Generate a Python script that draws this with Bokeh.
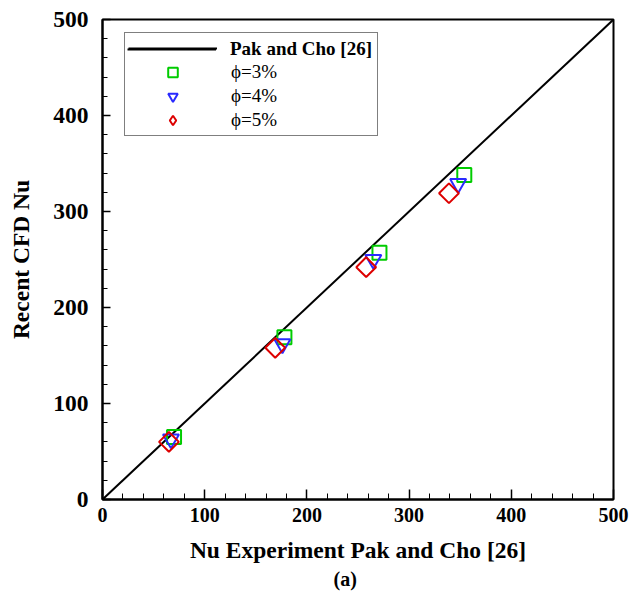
import numpy as np
from bokeh.plotting import figure
from bokeh.models import Range1d, SingleIntervalTicker, Legend, LegendItem, Title
from bokeh.embed import file_html
from bokeh.resources import INLINE

# ---- data ----
diag_x = [0, 500]
diag_y = [0, 500]

nu_exp_3 = [70, 178, 271, 354]
nu_cfd_3 = [65, 169, 257, 338]

nu_exp_4 = [67, 176, 265, 348]
nu_cfd_4 = [63, 162, 250, 329]

nu_exp_5 = [65, 169, 258, 339]
nu_cfd_5 = [60, 158, 242, 319]

x_label = "Nu Experiment Pak and Cho [26]"
y_label = "Recent CFD Nu"
line_label = "Pak and Cho [26]"
series_labels = ["\u03d5=3%", "\u03d5=4%", "\u03d5=5%"]

GREEN = "#00cc00"
BLUE = "#2a2aff"
RED = "#dd0000"
FONT = "Liberation Serif"

p = figure(width=629, height=594, output_backend="svg", toolbar_location=None,
           x_range=Range1d(0, 500), y_range=Range1d(0, 500),
           min_border_left=102, min_border_right=16, min_border_top=19,
           min_border_bottom=95)

p.background_fill_color = "white"
p.border_fill_color = "white"
p.outline_line_color = "black"
p.outline_line_width = 2
p.xgrid.visible = False
p.ygrid.visible = False

for ax, tin, minin in ((p.xaxis[0], 10, 6), (p.yaxis[0], 8, 5)):
    ax.ticker = SingleIntervalTicker(interval=100, num_minor_ticks=5)
    ax.axis_line_width = 2
    ax.axis_line_color = "black"
    ax.major_tick_in = tin
    ax.major_tick_out = 0
    ax.minor_tick_in = minin
    ax.minor_tick_out = 0
    ax.major_tick_line_width = 1.5
    ax.minor_tick_line_width = 1
    ax.major_label_text_font = FONT
    ax.major_label_text_font_style = "bold"
    ax.major_label_text_color = "black"
    ax.axis_label_text_font = FONT
    ax.axis_label_text_font_style = "bold"
    ax.axis_label_text_color = "black"

p.xaxis.axis_label = x_label
p.yaxis.axis_label = y_label
p.xaxis.major_label_text_font_size = "20px"
p.yaxis.major_label_text_font_size = "23.5px"
p.xaxis.axis_label_text_font_size = "23.5px"
p.yaxis.axis_label_text_font_size = "23.5px"
p.xaxis.major_label_standoff = 8
p.yaxis.major_label_standoff = 14
p.xaxis.axis_label_standoff = 12
p.yaxis.axis_label_standoff = 16

# diagonal line
ln = p.line(diag_x, diag_y, line_color="black", line_width=2)

# data markers
r3 = p.scatter(nu_exp_3, nu_cfd_3, marker="square", size=14, fill_color=None,
               line_color=GREEN, line_width=2)
r4 = p.scatter(nu_exp_4, nu_cfd_4, marker="inverted_triangle", size=16, fill_color=None,
               line_color=BLUE, line_width=2)
r5 = p.scatter(nu_exp_5, nu_cfd_5, marker="square", angle=np.pi / 4, size=14,
               fill_color=None, line_color=RED, line_width=2)
# legend stand-in for the rotated squares (legend ignores glyph angle)
r5_leg = p.scatter(nu_exp_5, nu_cfd_5, marker="diamond", fill_color=None,
                   line_color=RED, line_width=2, visible=False)

common = dict(padding=3, margin=0, spacing=0, glyph_width=89, glyph_height=24,
              label_height=24, label_standoff=14, label_text_font=FONT,
              label_text_font_size="19px", label_text_color="black")

leg_a = Legend(items=[LegendItem(label="\u00a0" * 30, renderers=[ln]),
                      LegendItem(label=series_labels[0], renderers=[r3]),
                      LegendItem(label=series_labels[1], renderers=[r4]),
                      LegendItem(label=series_labels[2], renderers=[r5_leg])],
               location=(22, 363), border_line_color="black", border_line_width=1,
               background_fill_color="white", background_fill_alpha=1.0, **common)
leg_b = Legend(items=[LegendItem(label=line_label, renderers=[ln])],
               location=(22, 435), border_line_alpha=0, background_fill_alpha=0,
               label_text_font_style="bold", **common)
p.add_layout(leg_a, "center")
p.add_layout(leg_b, "center")

p.add_layout(Title(text="(a)", align="left", offset=231, text_font=FONT,
                   text_font_style="bold", text_font_size="20px", text_color="black",
                   standoff=0), "below")

open("out.html", "w").write(file_html(p, INLINE))
